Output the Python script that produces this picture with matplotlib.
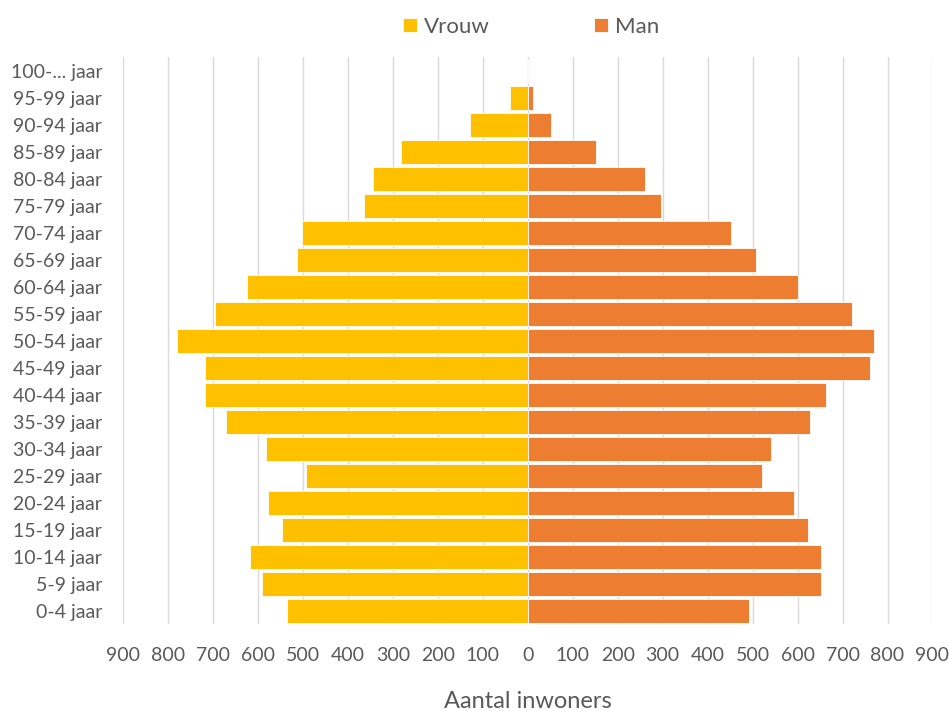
import numpy as np
import matplotlib.pyplot as plt
from matplotlib.ticker import FuncFormatter

# leeftijdsgroepen, van jong naar oud
groepen = ["0-4 jaar", "5-9 jaar", "10-14 jaar", "15-19 jaar", "20-24 jaar",
           "25-29 jaar", "30-34 jaar", "35-39 jaar", "40-44 jaar", "45-49 jaar",
           "50-54 jaar", "55-59 jaar", "60-64 jaar", "65-69 jaar", "70-74 jaar",
           "75-79 jaar", "80-84 jaar", "85-89 jaar", "90-94 jaar", "95-99 jaar",
           "100-... jaar"]
vrouw = [535, 590, 617, 546, 577, 494, 581, 670, 717, 717,
         780, 695, 624, 514, 501, 365, 343, 281, 129, 40, 0]
man = [491, 651, 653, 624, 591, 522, 540, 627, 664, 762,
       771, 722, 600, 507, 453, 296, 260, 151, 51, 11, 0]

kleur_vrouw = "#FFC000"
kleur_man = "#ED7D31"
grijs = "#595959"
font = "Lato"

fig = plt.figure(figsize=(9.49, 7.11), dpi=100)
ax = fig.add_axes([0.1296, 0.1217, 0.853, 0.7975])

y = np.arange(len(groepen))
ax.barh(y, -np.array(vrouw), height=0.9, color=kleur_vrouw, edgecolor="white",
        linewidth=0.6, label="Vrouw", zorder=3)
ax.barh(y, man, height=0.9, color=kleur_man, edgecolor="white",
        linewidth=0.6, label="Man", zorder=3)

ax.set_xlim(-900, 900)
ax.set_ylim(-0.5, len(groepen) - 0.5)
ax.set_xticks(np.arange(-900, 901, 100))
ax.xaxis.set_major_formatter(FuncFormatter(lambda v, p: f"{abs(int(v))}"))
ax.set_yticks(y)
ax.set_yticklabels(groepen)

ax.grid(axis="x", color="#D9D9D9", linewidth=1, zorder=0)
for s in ax.spines.values():
    s.set_visible(False)
ax.tick_params(length=0, labelsize=14, labelcolor=grijs)
ax.tick_params(axis="y", pad=15)
ax.tick_params(axis="x", pad=16)
for t in ax.get_xticklabels() + ax.get_yticklabels():
    t.set_fontfamily(font)

ax.set_xlabel("Aantal inwoners", fontsize=17, color=grijs, family=font, labelpad=20)

fig.legend(loc="center", bbox_to_anchor=(0.5596, 0.962), ncol=2, frameon=False,
           handlelength=0.63, handleheight=0.63, handletextpad=0.3,
           columnspacing=4.7, prop={"family": font, "size": 16},
           labelcolor=grijs)

fig.savefig("out.png", dpi=100)
